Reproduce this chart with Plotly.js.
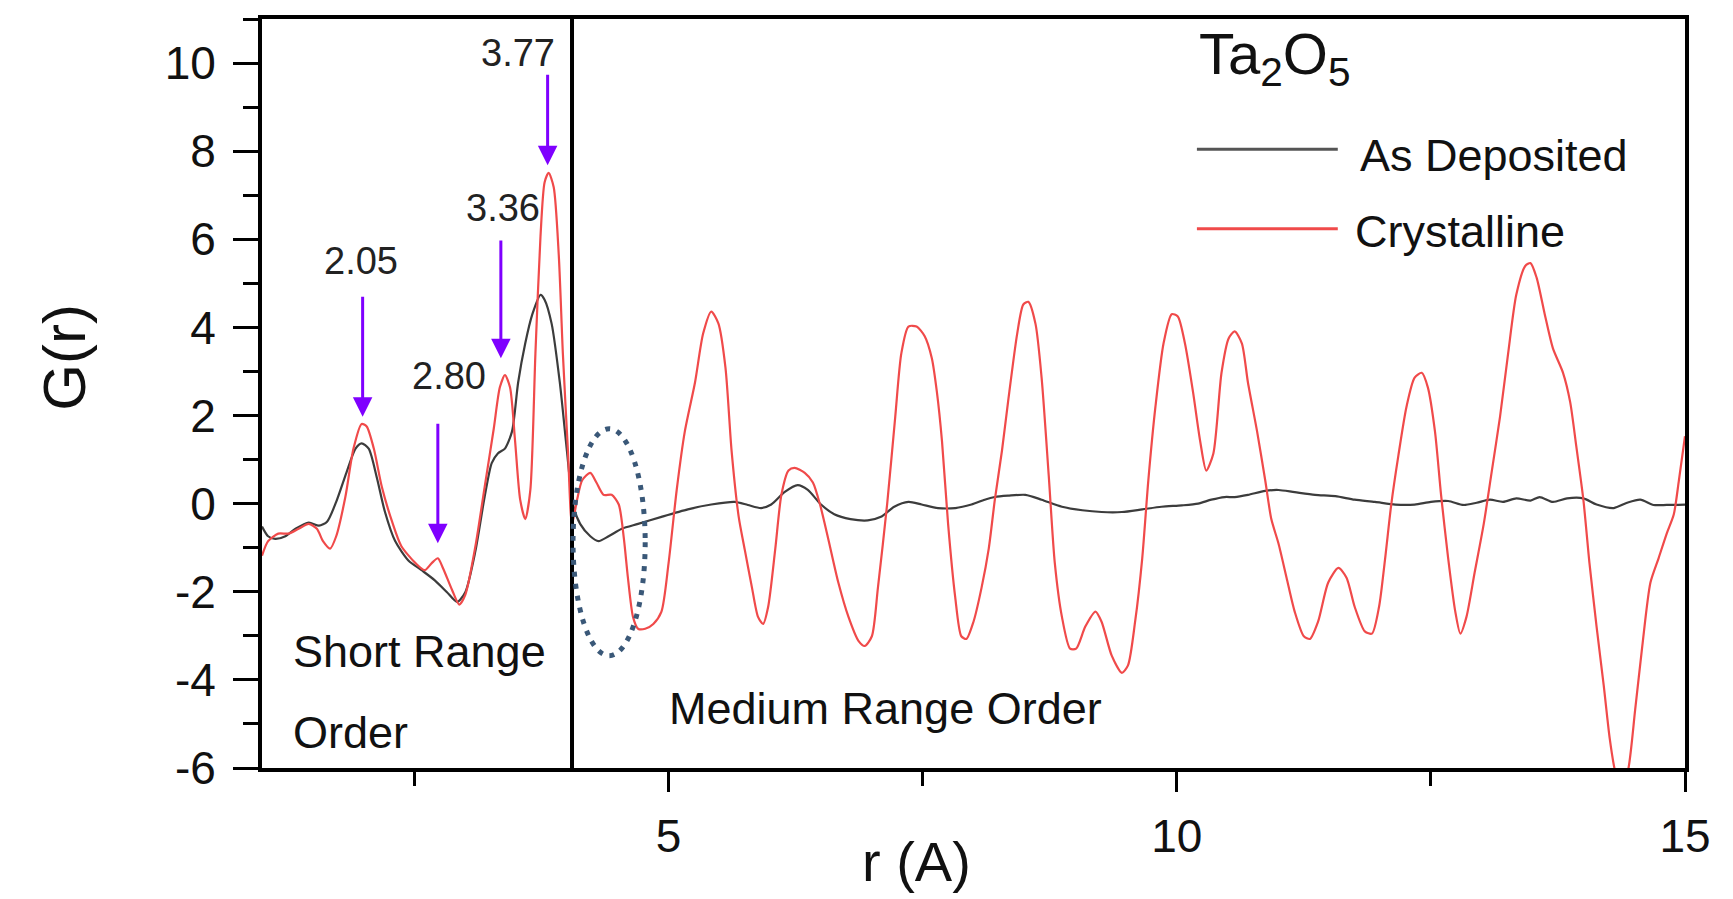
<!DOCTYPE html>
<html>
<head>
<meta charset="utf-8">
<script src="https://cdn.plot.ly/plotly-3.0.1.min.js"></script>
<style>html,body{margin:0;padding:0;background:#fff;}#chart{width:1733px;height:899px;}</style>
</head>
<body>
<div id="chart"></div>
<script>
// r (Angstrom) and G(r) for the crystalline film
const rCryst = [1.00,1.06,1.16,1.26,1.36,1.46,1.54,1.60,1.67,1.73,1.82,1.90,1.98,2.03,2.10,2.18,2.28,2.37,2.51,2.60,2.67,2.73,2.78,2.87,2.94,3.00,3.10,3.19,3.28,3.34,3.39,3.44,3.49,3.54,3.59,3.64,3.69,3.74,3.78,3.82,3.87,3.92,3.96,4.01,4.05,4.10,4.15,4.23,4.29,4.36,4.44,4.51,4.56,4.60,4.65,4.70,4.77,4.85,4.93,5.00,5.08,5.16,5.26,5.34,5.42,5.49,5.56,5.62,5.69,5.75,5.82,5.88,5.93,5.98,6.05,6.11,6.18,6.24,6.34,6.42,6.49,6.57,6.67,6.77,6.87,6.93,7.00,7.06,7.15,7.23,7.29,7.36,7.44,7.52,7.59,7.64,7.69,7.75,7.82,7.88,7.93,8.00,8.08,8.15,8.21,8.28,8.34,8.43,8.49,8.54,8.61,8.67,8.74,8.80,8.87,8.95,9.01,9.10,9.20,9.26,9.36,9.46,9.52,9.59,9.66,9.72,9.79,9.87,9.95,10.01,10.08,10.16,10.23,10.29,10.36,10.44,10.51,10.57,10.64,10.70,10.79,10.87,10.93,11.00,11.08,11.16,11.25,11.31,11.39,11.49,11.59,11.67,11.75,11.85,11.92,11.99,12.05,12.11,12.18,12.26,12.34,12.41,12.47,12.54,12.60,12.67,12.74,12.79,12.85,12.93,13.02,13.10,13.18,13.26,13.34,13.43,13.48,13.54,13.62,13.70,13.80,13.87,13.93,14.00,14.06,14.13,14.20,14.26,14.31,14.37,14.44,14.51,14.58,14.66,14.74,14.82,14.89,14.94,15.00];
const gCryst = [-1.18,-0.85,-0.68,-0.68,-0.57,-0.46,-0.57,-0.85,-1.02,-0.74,0.15,1.25,1.81,1.75,1.25,0.37,-0.41,-0.96,-1.35,-1.51,-1.35,-1.24,-1.46,-1.96,-2.29,-2.07,-0.96,0.37,1.70,2.64,2.92,2.64,1.42,0.09,-0.35,0.31,3.41,6.07,7.29,7.51,7.18,5.63,3.41,1.20,-0.46,0.09,0.53,0.70,0.48,0.20,0.20,-0.02,-0.79,-1.68,-2.57,-2.84,-2.84,-2.73,-2.45,-1.35,0.31,1.64,2.75,3.86,4.36,4.09,3.08,1.20,-0.30,-1.05,-1.90,-2.57,-2.73,-2.34,-1.02,0.20,0.75,0.81,0.70,0.48,-0.02,-0.79,-1.79,-2.57,-3.12,-3.23,-3.01,-1.90,-0.02,1.97,3.41,4.02,4.02,3.80,3.30,2.53,1.42,-0.46,-2.12,-3.01,-3.07,-2.68,-1.90,-1.02,0.09,1.20,2.31,3.86,4.52,4.58,4.08,2.86,0.64,-1.35,-2.57,-3.29,-3.29,-2.79,-2.45,-2.68,-3.45,-3.84,-3.67,-2.68,-1.24,0.53,2.20,3.64,4.30,4.25,3.64,2.53,1.42,0.75,1.14,2.97,3.75,3.91,3.64,2.75,1.64,0.53,-0.35,-0.90,-1.68,-2.45,-3.01,-3.07,-2.68,-1.79,-1.46,-1.68,-2.34,-2.90,-2.95,-2.34,-1.24,-0.02,1.09,2.20,2.86,2.97,2.64,1.64,0.20,-1.24,-2.45,-2.95,-2.57,-1.57,-0.46,0.75,1.97,3.41,4.74,5.40,5.46,5.13,4.30,3.53,2.97,2.31,1.31,0.09,-1.35,-2.79,-4.12,-5.34,-6.05,-6.50,-6.05,-4.67,-3.23,-1.79,-1.24,-0.68,-0.24,0.53,1.53];

// r (Angstrom) and G(r) for the as-deposited film
const rDep = [1.00,1.06,1.13,1.23,1.33,1.46,1.56,1.64,1.73,1.83,1.92,1.98,2.05,2.13,2.21,2.31,2.44,2.57,2.70,2.82,2.92,3.00,3.10,3.19,3.26,3.32,3.39,3.46,3.52,3.59,3.66,3.74,3.78,3.85,3.93,4.00,4.06,4.13,4.23,4.31,4.41,4.54,4.70,4.93,5.19,5.42,5.65,5.78,5.91,6.01,6.14,6.27,6.37,6.50,6.63,6.79,6.96,7.09,7.22,7.36,7.49,7.65,7.82,7.98,8.11,8.21,8.34,8.51,8.67,8.87,9.07,9.26,9.46,9.66,9.85,10.05,10.21,10.34,10.47,10.57,10.70,10.87,11.00,11.16,11.36,11.56,11.75,11.95,12.15,12.34,12.50,12.67,12.82,12.95,13.08,13.21,13.34,13.48,13.57,13.70,13.84,14.00,14.13,14.30,14.43,14.56,14.69,14.82,15.00];
const gDep = [-0.52,-0.74,-0.80,-0.74,-0.57,-0.43,-0.50,-0.41,0.04,0.70,1.25,1.37,1.25,0.59,-0.19,-0.85,-1.29,-1.51,-1.74,-2.01,-2.23,-2.01,-1.07,0.15,0.92,1.14,1.25,1.64,2.75,3.64,4.30,4.74,4.63,4.08,2.75,1.20,-0.02,-0.46,-0.74,-0.85,-0.74,-0.57,-0.46,-0.30,-0.13,-0.02,0.04,-0.03,-0.10,-0.02,0.26,0.42,0.31,-0.02,-0.24,-0.35,-0.38,-0.30,-0.07,0.04,-0.02,-0.10,-0.10,-0.02,0.09,0.15,0.18,0.20,0.09,-0.07,-0.15,-0.19,-0.19,-0.13,-0.07,-0.04,0.00,0.09,0.15,0.15,0.20,0.29,0.31,0.26,0.20,0.17,0.09,0.04,-0.02,-0.02,0.04,0.06,-0.03,0.02,0.09,0.04,0.12,0.07,0.15,0.04,0.12,0.12,-0.02,-0.10,0.02,0.09,-0.03,-0.03,-0.02];

const seriesNames = ['As Deposited', 'Crystalline'];
const peakLabels = ['2.05', '2.80', '3.36', '3.77'];
const xTickVals = [5, 10, 15];
const yTickVals = [-6, -4, -2, 0, 2, 4, 6, 8, 10];

const FONT = 'Liberation Sans, Arial, Helvetica, sans-serif';
const RED = '#f04a4a';
const GREY = '#3c3c3c';
const PURPLE = '#7f00ff';

const traces = [
  {x: rDep, y: gDep, name: seriesNames[0], type: 'scatter', mode: 'lines',
   line: {color: GREY, width: 2.2, shape: 'spline', smoothing: 0.7}},
  {x: rCryst, y: gCryst, name: seriesNames[1], type: 'scatter', mode: 'lines',
   line: {color: RED, width: 2.2, shape: 'spline', smoothing: 0.7}}
];

// arrows: [x, tipY, tailY]
const arrowGeom = [[1.99, 1.97, 4.74], [2.73, -0.90, 1.86], [3.35, 3.30, 6.02], [3.81, 7.68, 9.78]];
const labelPos = [[1.97, 5.51], [2.84, 2.90], [3.37, 6.71], [3.52, 10.23]];

const annotations = [];
arrowGeom.forEach(a => {
  annotations.push({x: a[0], y: a[1], ax: a[0], ay: a[2], xref: 'x', yref: 'y', axref: 'x', ayref: 'y',
    text: ' ', font: {size: 1}, showarrow: true, arrowhead: 2, arrowsize: 1.3, arrowwidth: 3, arrowcolor: PURPLE, standoff: 0});
});
peakLabels.forEach((t, i) => {
  annotations.push({x: labelPos[i][0], y: labelPos[i][1], xref: 'x', yref: 'y', text: t, showarrow: false,
    font: {family: FONT, size: 38, color: '#222'}, xanchor: 'center', yanchor: 'middle'});
});
// region labels
annotations.push({x: 0.0204, y: 0.155, xref: 'paper', yref: 'paper', text: 'Short Range', showarrow: false,
  xanchor: 'left', yanchor: 'middle', font: {family: FONT, size: 45, color: '#111'}});
annotations.push({x: 0.0204, y: 0.048, xref: 'paper', yref: 'paper', text: 'Order', showarrow: false,
  xanchor: 'left', yanchor: 'middle', font: {family: FONT, size: 45, color: '#111'}});
annotations.push({x: 0.2846, y: 0.080, xref: 'paper', yref: 'paper', text: 'Medium Range Order', showarrow: false,
  xanchor: 'left', yanchor: 'middle', font: {family: FONT, size: 45, color: '#111'}});
// legend
annotations.push({x: 0.657, y: 1.0, xref: 'paper', yref: 'paper', text: 'Ta<sub>2</sub>O<sub>5</sub>', showarrow: false,
  xanchor: 'left', yanchor: 'top', font: {family: FONT, size: 58, color: '#111'}});
annotations.push({x: 0.770, y: 0.818, xref: 'paper', yref: 'paper', text: seriesNames[0], showarrow: false,
  xanchor: 'left', yanchor: 'middle', font: {family: FONT, size: 45, color: '#111'}});
annotations.push({x: 0.767, y: 0.716, xref: 'paper', yref: 'paper', text: seriesNames[1], showarrow: false,
  xanchor: 'left', yanchor: 'middle', font: {family: FONT, size: 45, color: '#111'}});
// axis titles
annotations.push({x: -0.139, y: 0.548, xref: 'paper', yref: 'paper', text: 'G(r)', showarrow: false,
  textangle: -90, xanchor: 'center', yanchor: 'middle', font: {family: FONT, size: 60, color: '#111'}});
annotations.push({x: 0.4596, y: -0.1255, xref: 'paper', yref: 'paper', text: 'r (A)', showarrow: false,
  xanchor: 'center', yanchor: 'middle', font: {family: FONT, size: 56, color: '#111'}});

const shapes = [
  {type: 'line', xref: 'x', yref: 'paper', x0: 4.05, x1: 4.05, y0: 0, y1: 1, line: {color: '#000', width: 4}},
  {type: 'circle', xref: 'x', yref: 'y', x0: 4.06, x1: 4.77, y0: -3.45, y1: 1.70,
   line: {color: '#3a5878', width: 5, dash: '5px,7px'}},
  {type: 'line', xref: 'paper', yref: 'paper', x0: 0.657, x1: 0.756, y0: 0.826, y1: 0.826, line: {color: '#555', width: 3}},
  {type: 'line', xref: 'paper', yref: 'paper', x0: 0.657, x1: 0.756, y0: 0.720, y1: 0.720, line: {color: RED, width: 3}}
];

const axisCommon = {
  showline: true, linecolor: '#000', linewidth: 4, mirror: true,
  ticks: 'outside', tickcolor: '#000', tickwidth: 3,
  showgrid: false, zeroline: false,
  tickfont: {family: FONT, size: 46, color: '#111'}
};

const layout = {
  width: 1733, height: 899,
  margin: {l: 262, r: 48, t: 19, b: 131, pad: 0},
  paper_bgcolor: '#fff', plot_bgcolor: '#fff',
  showlegend: false,
  xaxis: Object.assign({}, axisCommon, {
    range: [1, 15], tickmode: 'array', tickvals: xTickVals, ticktext: xTickVals.map(String),
    ticklen: 20, ticklabelstandoff: 5,
    minor: {tickmode: 'linear', tick0: 0, dtick: 2.5, ticks: 'outside', ticklen: 14, tickwidth: 3, tickcolor: '#000', showgrid: false}
  }),
  yaxis: Object.assign({}, axisCommon, {
    range: [-6, 11], tickmode: 'array', tickvals: yTickVals, ticktext: yTickVals.map(String),
    ticklen: 25, ticklabelstandoff: 8,
    minor: {tickmode: 'linear', tick0: 0, dtick: 1, ticks: 'outside', ticklen: 15, tickwidth: 3, tickcolor: '#000', showgrid: false}
  }),
  annotations: annotations,
  shapes: shapes
};

Plotly.newPlot('chart', traces, layout, {displayModeBar: false, staticPlot: true});
</script>
</body>
</html>
